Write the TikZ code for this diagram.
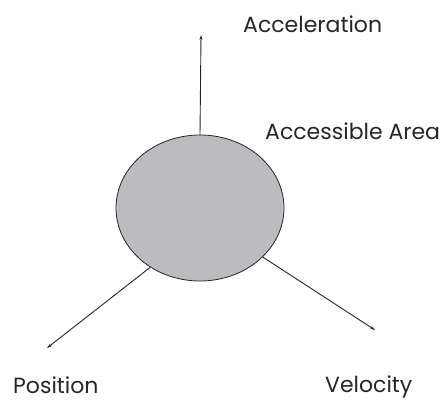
\documentclass[tikz,border=0pt]{standalone}
\usepackage{fontspec}
\setmainfont{Poppins}
\usetikzlibrary{arrows.meta,shapes.geometric}
\definecolor{areagray}{RGB}{188,188,192}
\tikzset{
  lbl/.style={font=\fontsize{22}{26}\selectfont, text=black!85, inner sep=0pt, anchor=base west},
  axis/.style={draw=black!85, line width=0.9pt, -{Stealth[length=5pt,width=3pt]}},
}
\begin{document}
\begin{tikzpicture}[x=1pt,y=1pt]
\useasboundingbox (0,0) rectangle (441,403);
\node[ellipse, draw=black!85, line width=0.8pt, fill=areagray, minimum width=168pt, minimum height=146pt, inner sep=0pt] (area) at (200,195) {};
\coordinate (acc) at (201,368);
\coordinate (pos) at (47,55);
\coordinate (vel) at (375,73);
\draw[axis] (area.north) -- (acc);
\draw[axis] (area.-130) -- (pos);
\draw[axis] (area.-38) -- (vel);
\node[lbl] (tacc) at (243,370) {Acceleration};
\node[lbl] (tarea) at (265,263) {Accessible Area};
\node[lbl] (tpos) at (13,9) {Position};
\node[lbl] (tvel) at (325,10) {Velocity};
\end{tikzpicture}
\end{document}
